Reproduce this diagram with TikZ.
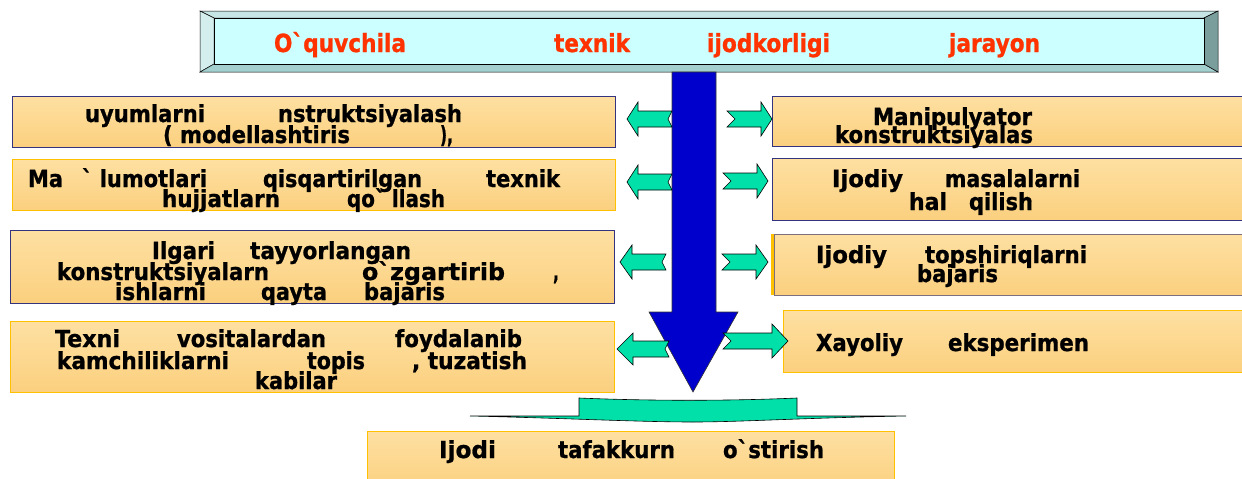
\documentclass[tikz,border=0pt]{standalone}
\usepackage{fontspec}
\setmainfont{DejaVu Sans}
\newfontfamily\hv{DejaVu Sans Bold}[FakeBold=1]
\usepackage{graphicx}
\definecolor{boxtop}{HTML}{FEE0A2}
\definecolor{boxbot}{HTML}{FBD07F}
\definecolor{navy}{HTML}{33337F}
\definecolor{gold}{HTML}{FFC000}
\definecolor{greyb}{HTML}{7D6F7D}
\definecolor{cyanin}{HTML}{CCFFFF}
\definecolor{bevtop}{HTML}{C6E6E6}
\definecolor{bevleft}{HTML}{D4EEEE}
\definecolor{bevbot}{HTML}{A3CFCF}
\definecolor{bevright}{HTML}{7A9E9C}
\definecolor{bannerred}{HTML}{FF3300}
\definecolor{arrowblue}{HTML}{0000CC}
\definecolor{agreen}{HTML}{00E0A8}
\newcommand\bq{\symbol{96}}
\newcommand\wrd[6][wrd]{\pgfmathsetmacro\wwid{#4-#3}\node[#1] (#2) at (#3,#5) {\resizebox{\wwid pt}{\height}{#6}};}
\newcommand\bx[6]{\node[box, draw=#6, minimum width=#4pt, minimum height=#5pt] (#1) at (#2,#3) {};}
\newcommand\larr[5]{% tip x, tail x, centre y, head length, head half
  \filldraw[garrow] (#1,#3) -- ({#1+#4},{#3-#5}) -- ({#1+#4},{#3-8}) -- (#2,{#3-8}) -- ({#2-4},#3) -- (#2,{#3+8}) -- ({#1+#4},{#3+8}) -- ({#1+#4},{#3+#5}) -- cycle;}
\newcommand\rarr[5]{% tip x, tail x, centre y, head length, head half
  \filldraw[garrow] (#1,#3) -- ({#1-#4},{#3-#5}) -- ({#1-#4},{#3-8}) -- (#2,{#3-8}) -- ({#2+8},#3) -- (#2,{#3+8}) -- ({#1-#4},{#3+8}) -- ({#1-#4},{#3+#5}) -- cycle;}
\begin{document}
\begin{tikzpicture}[x=1pt,y=-1pt,
  box/.style={rectangle, anchor=north west, inner sep=0pt, outer sep=0pt, top color=boxtop, bottom color=boxbot, line width=0.9pt},
  wrd/.style={anchor=base west, inner sep=0pt, outer sep=0pt, font=\hv\fontsize{23.5}{23.5}\selectfont, text=black},
  ban/.style={wrd, font=\hv\fontsize{25}{25}\selectfont, text=bannerred},
  garrow/.style={fill=agreen, draw=black, line width=0.6pt, line join=miter},
  bevel/.style={draw=black, line width=0.5pt}]
\useasboundingbox (0,0) rectangle (1242,479);
\clip (0,0) rectangle (1242,479);

% boxes
\bx{L1}{12}{96}{603}{51}{navy}
\bx{L2}{12}{159}{603}{51}{gold}
\bx{L3}{10}{230}{604}{73}{navy}
\bx{L4}{10}{321}{604}{71}{gold}
\bx{R1}{772}{96}{480}{50}{navy}
\bx{R2}{772}{158}{480}{62}{navy}
\bx{R3}{774}{234}{480}{61}{greyb}
\fill[gold] (771,234) rectangle (773.5,295);
\bx{R4}{783}{310}{480}{62}{gold}
\bx{B}{367}{431}{527}{60}{gold}

% banner
\filldraw[bevel, fill=bevtop] (200,11) -- (1218,11) -- (1204,18) -- (214,18) -- cycle;
\filldraw[bevel, fill=bevleft] (200,11) -- (214,18) -- (214,64) -- (200,72) -- cycle;
\filldraw[bevel, fill=bevbot] (200,72) -- (214,64) -- (1204,64) -- (1218,72) -- cycle;
\filldraw[bevel, fill=bevright] (1218,11) -- (1204,18) -- (1204,64) -- (1218,72) -- cycle;
\filldraw[bevel, fill=cyanin] (214,18) rectangle (1204,64);

% big blue arrow
\filldraw[fill=arrowblue, draw=black!80, line width=0.6pt] (672,72) -- (716,72) -- (716,312) -- (738,312) -- (693,392) -- (649,312) -- (672,312) -- cycle;

% green arrows
\larr{627}{672}{119}{11}{17}
\rarr{772}{727}{119}{11}{17}
\larr{627}{672}{182}{11}{17}
\rarr{768}{723}{181}{11}{17}
\larr{620}{666}{262}{12}{17}
\rarr{768}{722}{262}{12}{17}
\larr{617}{669}{349}{16}{16}
\rarr{788}{723}{341}{16}{17}

% bottom green bar
\filldraw[garrow] (579,398) .. controls (650,401) and (730,401) .. (797,398) -- (797,416) -- (906,416) .. controls (800,418) and (740,422) .. (693,422) .. controls (640,422) and (560,418) .. (470,416) -- (579,416) -- cycle;

% banner text
\wrd[ban]{b1}{274}{406}{52}{O\bq quvchila}
\wrd[ban]{b2}{554}{630}{52}{texnik}
\wrd[ban]{b3}{707}{830}{52}{ijodkorligi}
\wrd[ban]{b4}{949}{1040}{52}{jarayon}

% left box 1
\wrd{a1}{85}{205}{122}{uyumlarni}
\wrd{a2}{278}{462}{122}{nstruktsiyalash}
\wrd{a3}{163}{350}{143}{( modellashtiris}
\wrd{a4}{440}{453}{143}{),}
% left box 2
\wrd{c1}{28}{63}{187}{Ma}
\wrd{c2}{82}{207}{187}{\bq{} lumotlari}
\wrd{c3}{263}{422}{187}{qisqartirilgan}
\wrd{c4}{486}{560}{187}{texnik}
\wrd{c5}{162}{280}{207}{hujjatlarn}
\wrd{c6}{347}{445}{207}{qo\bq{} llash}
% left box 3
\wrd{d1}{152}{215}{259}{Ilgari}
\wrd{d2}{250}{411}{259}{tayyorlangan}
\wrd{d3}{57}{269}{280}{konstruktsiyalarn}
\wrd{d4}{362}{505}{280}{o\bq zgartirib}
\wrd{d5}{553}{559}{280}{,}
\wrd{d6}{115}{206}{300}{ishlarni}
\wrd{d7}{261}{327}{300}{qayta}
\wrd{d8}{364}{445}{300}{bajaris}
% left box 4
\wrd{e1}{55}{120}{347}{Texni}
\wrd{e2}{177}{326}{347}{vositalardan}
\wrd{e3}{395}{522}{347}{foydalanib}
\wrd{e4}{57}{229}{369}{kamchiliklarni}
\wrd{e5}{307}{365}{369}{topis}
\wrd{e6}{412}{527}{369}{, tuzatish}
\wrd{e7}{255}{337}{389}{kabilar}
% right boxes
\wrd{r1}{873}{1032}{125}{Manipulyator}
\wrd{r2}{835}{1033}{143}{konstruktsiyalas}
\wrd{s1}{832}{903}{187}{Ijodiy}
\wrd{s2}{945}{1080}{187}{masalalarni}
\wrd{s3}{909}{947}{210}{hal}
\wrd{s4}{969}{1033}{210}{qilish}
\wrd{t1}{816}{887}{263}{Ijodiy}
\wrd{t2}{925}{1087}{263}{topshiriqlarni}
\wrd{t3}{917}{998}{282}{bajaris}
\wrd{u1}{816}{903}{351}{Xayoliy}
\wrd{u2}{948}{1089}{351}{eksperimen}
% bottom box
\wrd{v1}{439}{496}{458}{Ijodi}
\wrd{v2}{558}{675}{458}{tafakkurn}
\wrd{v3}{723}{824}{458}{o\bq stirish}
\end{tikzpicture}
\end{document}
